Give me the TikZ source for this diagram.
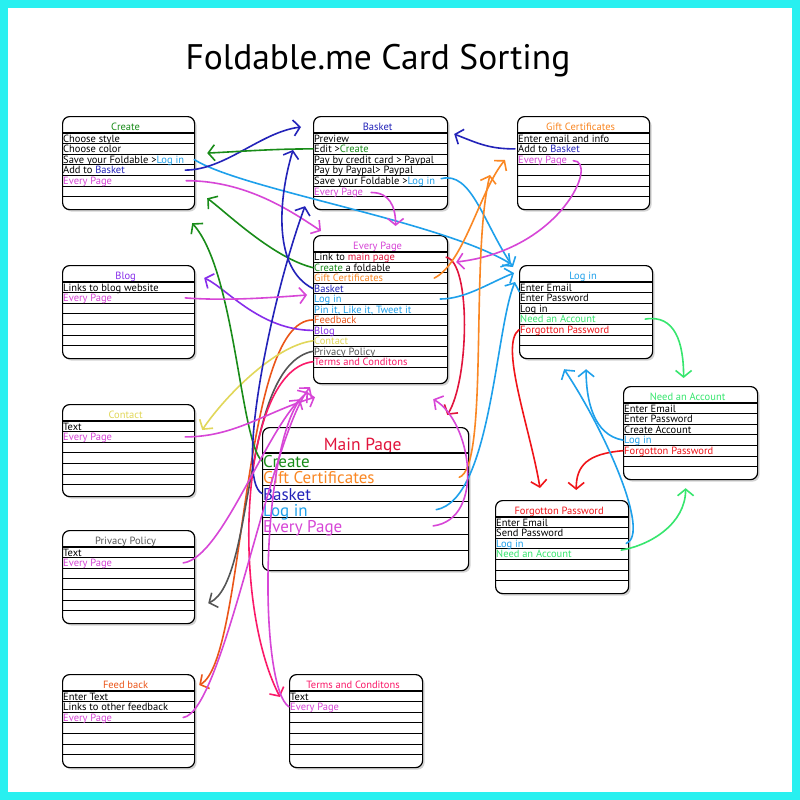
\documentclass[tikz,border=0pt]{standalone}
\usepackage{fontspec}
\setmainfont{PT Sans}
\usepackage{tikz}
\usetikzlibrary{arrows.meta, shadows}
\definecolor{frameC}{RGB}{40,240,240}
\definecolor{createG}{RGB}{25,140,25}
\definecolor{giftO}{RGB}{250,135,35}
\definecolor{basketB}{RGB}{35,35,185}
\definecolor{loginB}{RGB}{30,160,235}
\definecolor{everyM}{RGB}{215,70,215}
\definecolor{mainR}{RGB}{225,20,60}
\definecolor{blogP}{RGB}{135,45,235}
\definecolor{contactY}{RGB}{225,215,90}
\definecolor{privG}{RGB}{85,85,85}
\definecolor{feedO}{RGB}{235,85,25}
\definecolor{termsR}{RGB}{250,25,105}
\definecolor{needG}{RGB}{55,230,110}
\definecolor{forgotR}{RGB}{240,20,25}
\def\titleh{17}
% #1 name, #2 x, #3 y, #4 width, #5 height, #6 row height, #7 rules, #8 title, #9 rows
\newcommand{\card}[9]{%
  \node[card, minimum width=#4, minimum height=#5] (#1) at (#2,#3) {};
  \node[cardtitle] (#1-title) at ([shift={(-3,\titleh-2.5)}]#1.north) {#8};
  \draw[titlerule] ([shift={(0,\titleh)}]#1.north west) -- ([shift={(0,\titleh)}]#1.north east);
  \foreach \k in {1,...,#7}
    \draw[rowrule] ([shift={(0,\titleh+\k*#6)}]#1.north west) -- ([shift={(0,\titleh+\k*#6)}]#1.north east);
  \foreach \txt [count=\i] in {#9} {
    \node[rowtext] (#1-\i) at ([shift={(1,\titleh+\i*#6-1.5)}]#1.north west) {\txt};
    \coordinate (#1-w\i) at ([shift={(0,\titleh+\i*#6-#6/2)}]#1.north west);
    \coordinate (#1-e\i) at ([shift={(0,\titleh+\i*#6-#6/2)}]#1.north east);
  }%
}

\begin{document}
\begin{tikzpicture}[x=1pt, y=-1pt,
  card/.style={draw, line width=1.2pt, rounded corners=7pt, fill=white,
               anchor=north west, inner sep=0pt,
               drop shadow={shadow xshift=2pt, shadow yshift=-2pt, opacity=0.35}},
  cardtitle/.style={anchor=base, inner sep=0pt, font=\fontsize{10.5}{12}\selectfont},
  rowtext/.style={anchor=base west, inner sep=0pt, font=\fontsize{10.5}{12}\selectfont},
  titlerule/.style={line width=1.8pt},
  rowrule/.style={line width=0.9pt},
  link/.style={-{Straight Barb[length=6.5pt,width=16pt]}, line width=1.6pt, line cap=round},
]
\useasboundingbox (0,0) rectangle (800,800);
\fill[frameC] (0,0) rectangle (800,800);
\fill[white] (8,8) rectangle (792,792);

\node[anchor=base, font=\fontsize{35.5}{40}\selectfont] (title) at (378,70) {Foldable.me Card Sorting};

% cards
\card{create}{62}{116}{132}{93}{10.6}{6}{\textcolor{createG}{Create}}
  {Choose style, Choose color, Save your Foldable >\textcolor{loginB}{Log in},
   Add to \textcolor{basketB}{Basket}, \textcolor{everyM}{Every Page}}
\card{basket}{313}{116}{134}{93}{10.6}{6}{\textcolor{basketB}{Basket}}
  {Preview, Edit >\textcolor{createG}{Create}, Pay by credit card > Paypal,
   Pay by Paypal> Paypal, Save your Foldable >\textcolor{loginB}{Log in},
   \textcolor{everyM}{Every Page}}
\card{gift}{517}{116}{132}{93}{10.6}{6}{\textcolor{giftO}{Gift Certificates}}
  {Enter email and info, Add to \textcolor{basketB}{Basket}, \textcolor{everyM}{Every Page}}
\card{every}{313}{235}{134}{148}{10.45}{11}{\textcolor{everyM}{Every Page}}
  {Link to \textcolor{mainR}{main page}, \textcolor{createG}{Create} a foldable,
   \textcolor{giftO}{Gift Certificates}, \textcolor{basketB}{Basket},
   \textcolor{loginB}{Log in}, {\textcolor{loginB}{Pin it, Like it, Tweet it}},
   \textcolor{feedO}{Feedback}, \textcolor{blogP}{Blog}, \textcolor{contactY}{Contact},
   \textcolor{privG}{Privacy Policy}, \textcolor{termsR}{Terms and Conditons}}
\card{login}{519}{265}{133}{93}{10.6}{6}{\textcolor{loginB}{Log in}}
  {Enter Email, Enter Password, Log in, \textcolor{needG}{Need an Account},
   \textcolor{forgotR}{Forgotton Password}}
\card{need}{623}{386}{134}{93}{10.6}{6}{\textcolor{needG}{Need an Account}}
  {Enter Email, Enter Password, Create Account, \textcolor{loginB}{Log in},
   \textcolor{forgotR}{Forgotton Password}}
\card{forgot}{495}{500}{133}{93}{10.6}{6}{\textcolor{forgotR}{Forgotton Password}}
  {Enter Email, Send Password, \textcolor{loginB}{Log in}, \textcolor{needG}{Need an Account}}
\card{blog}{62}{265}{132}{93}{10.6}{6}{\textcolor{blogP}{Blog}}
  {Links to blog website, \textcolor{everyM}{Every Page}}
\card{contact}{62}{404}{132}{92}{10.6}{6}{\textcolor{contactY}{Contact}}
  {Text, \textcolor{everyM}{Every Page}}
\card{privacy}{62}{530}{132}{93}{10.6}{6}{\textcolor{privG}{Privacy Policy}}
  {Text, \textcolor{everyM}{Every Page}}
\card{feedback}{62}{674}{132}{93}{10.6}{6}{\textcolor{feedO}{Feed back}}
  {Enter Text, Links to other feedback, \textcolor{everyM}{Every Page}}
\card{terms}{289}{674}{133}{93}{10.6}{6}{\textcolor{termsR}{Terms and Conditons}}
  {Text, \textcolor{everyM}{Every Page}}
\begin{scope}[cardtitle/.append style={font=\fontsize{17.5}{20}\selectfont},
              rowtext/.append style={font=\fontsize{17}{20}\selectfont}]
\def\titleh{26}
\card{main}{262}{427}{206}{143}{16.2}{6}{\textcolor{mainR}{Main Page}}
  {\textcolor{createG}{Create}, \textcolor{giftO}{Gift Certificates},
   \textcolor{basketB}{Basket}, \textcolor{loginB}{Log in}, \textcolor{everyM}{Every Page}}
\end{scope}

% links from Create and Basket
\draw[link, loginB] ([xshift=-1]create-e3) .. controls +(47,30) and +(-71,-43) .. ([shift={(-8,-1)}]login.north west);
\draw[link, everyM] ([xshift=-9]create-e5) .. controls +(60,0) and +(-30,-20) .. ([shift={(8,-4)}]every.north west);
\draw[link, basketB] ([xshift=-10]create-e4) .. controls +(40,0) and +(-40,5) .. ([shift={(-12,11)}]basket.north west);
\draw[link, createG] (basket-w2) .. controls +(-40,0) and +(40,-2) .. ([shift={(12,-10)}]create.east);
\draw[link, everyM] ([xshift=8]basket-6.east) .. controls +(18,0) and +(0,-20) .. ([shift={(15,-9)}]every.north);
\draw[link, loginB] ([shift={(-7,-2)}]basket-e5) .. controls +(30,-8) and +(-30,-45) .. ([shift={(-6,2)}]login.north west);

% links from Gift Certificates
\draw[link, basketB] ([xshift=-2]gift-w2) .. controls +(-25,0) and +(25,10) .. ([shift={(6,18)}]basket.north east);
\draw[link, everyM] ([xshift=6]gift-3.east) .. controls +(26,0) and +(105,-12) .. ([shift={(8,27)}]every.north east);

% links from Every Page
\draw[link, mainR] ([xshift=-2]every-e1) .. controls +(25,5) and +(22,-35) .. ([shift={(-22,-12)}]main.north east);
\draw[link, giftO] ([xshift=-14]every-e3) .. controls +(30,-15) and +(-25,30) .. ([shift={(-12,44)}]gift.north west);
\draw[link, loginB] ([xshift=-8]every-e5) .. controls +(25,0) and +(-25,10) .. ([shift={(-5,8)}]login.north west);
\draw[link, createG] (every-w2) .. controls +(-40,-10) and +(20,15) .. ([shift={(12,-12)}]create.south east);
\draw[link, basketB] (every-w4) .. controls +(-40,-20) and +(-15,50) .. ([shift={(-20,34)}]basket.north west);
\draw[link, feedO] (every-w7) .. controls +(-73,0) and +(47,-25) .. ([shift={(4,11)}]feedback.north east);
\draw[link, blogP] (every-w8) .. controls +(-53,0) and +(22,10) .. ([shift={(9,13)}]blog.north east);
\draw[link, contactY] (every-w9) .. controls +(-40,5) and +(20,-30) .. ([shift={(7,26)}]contact.north east);
\draw[link, privG] (every-w10) .. controls +(-73,14) and +(48,-22) .. ([shift={(13,-21)}]privacy.south east);
\draw[link, termsR] (every-w11) .. controls +(-73,8) and +(-50,-97) .. ([shift={(-9,23)}]terms.north west);

% links from Main Page
\draw[link, createG] (main-w1) .. controls +(-22,-21) and +(43,48) .. ([shift={(-3,13)}]create.south east);
\draw[link, giftO] ([xshift=-10]main-e2) .. controls +(30,-10) and +(-20,80) .. ([shift={(-27,59)}]gift.north west);
\draw[link, basketB] (main-w3) .. controls +(-27,-14) and +(-35,95) .. ([shift={(-8,-4)}]basket.south west);
\draw[link, loginB] ([xshift=-33]main-e4) .. controls +(55,-10) and +(-20,48) .. ([shift={(-4,17)}]login.north west);
\draw[link, everyM] ([xshift=-36]main-e5) .. controls +(53,-7) and +(38,22) .. ([shift={(-15,15)}]every.south east);

% Log in, Need an Account, Forgotton Password
\draw[link, needG] ([xshift=-8]login-e4) .. controls +(30,-5) and +(0,-35) .. ([shift={(-7,-8)}]need.north);
\draw[link, forgotR] (login-w5) .. controls +(-20,15) and +(-10,-60) .. ([shift={(45,-12)}]forgot.north west);
\draw[link, loginB] (need-w4) .. controls +(-30,-5) and +(0,30) .. ([shift={(0,10)}]login.south);
\draw[link, forgotR] (need-w5) .. controls +(-35,3) and +(0,-25) .. ([shift={(-53,-10)}]forgot.north east);
\draw[link, loginB] ([xshift=-3]forgot-e3) .. controls +(25,-10) and +(40,60) .. ([shift={(-22,10)}]login.south);
\draw[link, needG] ([shift={(-8,-4)}]forgot-e4) .. controls +(30,-5) and +(0,35) .. ([shift={(-5,8)}]need.south);

% Every Page rows of the side cards
\draw[link, everyM] ([xshift=-10]blog-e2) .. controls +(40,3) and +(-40,3) .. ([shift={(-6,60)}]every.north west);
\draw[link, everyM] ([xshift=-10]contact-e2) .. controls +(50,0) and +(-50,15) .. ([shift={(2,13)}]every.south west);
\draw[link, everyM] ([xshift=-12]privacy-e2) .. controls +(40,-5) and +(-40,30) .. ([shift={(-5,8)}]every.south west);
\draw[link, everyM] ([xshift=-12]feedback-e3) .. controls +(40,-5) and +(-40,50) .. ([shift={(-3,3)}]every.south west);
\draw[link, everyM] (terms-w2) .. controls +(-30,-20) and +(-40,60) .. ([shift={(-13,15)}]every.south west);
\end{tikzpicture}
\end{document}
